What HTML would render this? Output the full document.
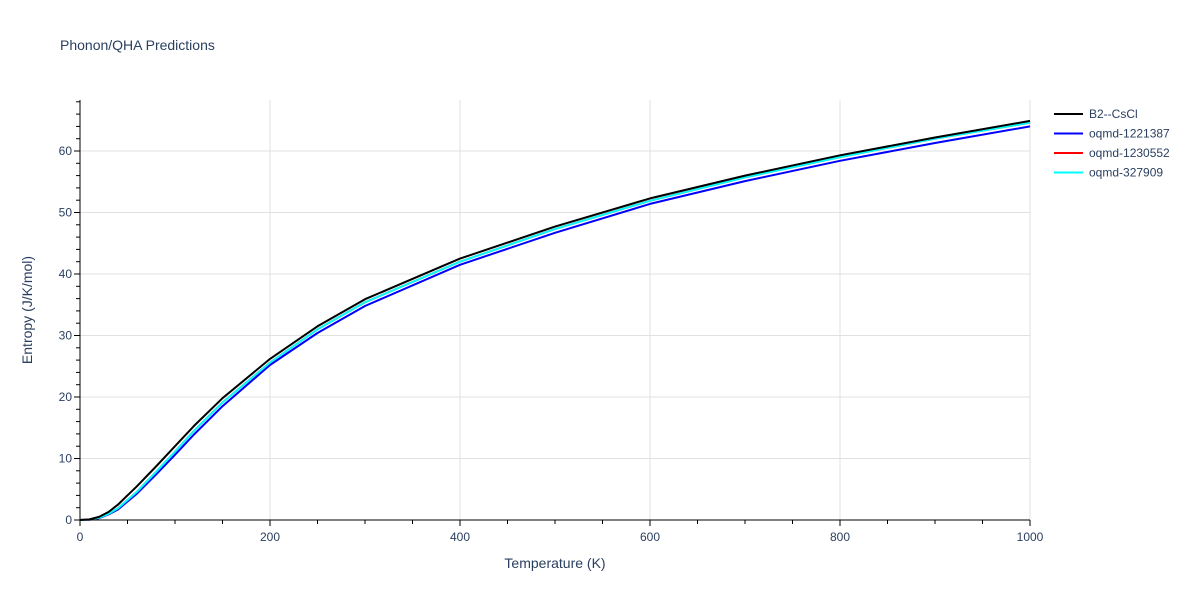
<!DOCTYPE html>
<html><head><meta charset="utf-8"><style>
body{margin:0;background:#fff;font-family:"Liberation Sans",sans-serif;}
text{font-family:"Liberation Sans",sans-serif;fill:#2a3f5f;}
</style></head><body>
<svg id="chart" width="1200" height="600" xmlns="http://www.w3.org/2000/svg">
<rect width="1200" height="600" fill="#fff"/>
<text x="60" y="50" font-size="14">Phonon/QHA Predictions</text>
<g id="grid"></g><g id="series"></g><g id="axes"></g>
<text x="555" y="568" font-size="14" text-anchor="middle">Temperature (K)</text>
<text transform="translate(32,310) rotate(-90)" font-size="14" text-anchor="middle">Entropy (J/K/mol)</text>
<g id="legend"></g>
</svg>
<script>
const temps=[0,10,20,30,40,60,80,100,120,150,200,250,300,400,500,600,700,800,900,1000];
const sB2=[0,0.1,0.5,1.3,2.5,5.5,8.7,12,15.3,19.8,26.2,31.5,35.9,42.5,47.7,52.3,56.0,59.3,62.2,64.9];
const s1221387=[0,0.05,0.3,0.9,1.7,4.3,7.4,10.6,13.9,18.5,25.2,30.4,34.8,41.5,46.7,51.4,55.1,58.4,61.3,64.0];
const s1230552=[0,0.06,0.35,1.0,1.9,4.6,7.8,11.1,14.5,19.1,25.6,31.0,35.4,42.0,47.3,51.9,55.7,59.0,62.0,64.6];
const s327909=[0,0.06,0.35,1.0,1.9,4.6,7.8,11.1,14.5,19.1,25.6,31.0,35.4,42.0,47.3,51.9,55.7,59.0,62.0,64.6];
const xTicks=[0,200,400,600,800,1000];
const yTicks=[0,10,20,30,40,50,60];
const names=["B2--CsCl","oqmd-1221387","oqmd-1230552","oqmd-327909"];
const colors=["#000000","#0000ff","#ff0000","#00ffff"];
const NS="http://www.w3.org/2000/svg";
const X=v=>80+v*0.95, Y=v=>520-v*6.15;
function mk(t,a,p){const e=document.createElementNS(NS,t);for(const k in a)e.setAttribute(k,a[k]);p.appendChild(e);return e;}
const grid=document.getElementById('grid'),axes=document.getElementById('axes'),ser=document.getElementById('series'),leg=document.getElementById('legend');
xTicks.forEach(v=>{if(v>0){const l=mk('line',{x1:X(v),x2:X(v),y1:100,y2:520,stroke:'#e1e1e1'},grid);

}
const t=mk('text',{x:X(v),y:541,'font-size':12,'text-anchor':'middle'},axes);t.textContent=v;

});
yTicks.forEach(v=>{if(v>0){const l=mk('line',{x1:80,x2:1030,y1:Y(v),y2:Y(v),stroke:'#e1e1e1'},grid);

}
const t=mk('text',{x:72,y:Y(v)+4,'font-size':12,'text-anchor':'end'},axes);t.textContent=v;

});
for(let v=0;v<=1000;v+=50){mk('line',{x1:X(v),x2:X(v),y1:520,y2:v%200==0?526:524,stroke:'#000'},axes);}
for(let v=0;v<=68;v+=2){mk('line',{x1:80,x2:v%10==0?74:76,y1:Y(v),y2:Y(v),stroke:'#000'},axes);}
mk('line',{x1:80,x2:80,y1:100,y2:520,stroke:'#000'},axes);
mk('line',{x1:80,x2:1030,y1:520,y2:520,stroke:'#000'},axes);
const data=[sB2,s1221387,s1230552,s327909];
const order=[1,2,3,0];
order.forEach(i=>{const d=temps.map((t,j)=>(j?'L':'M')+X(t).toFixed(1)+','+Y(data[i][j]).toFixed(1)).join('');
const p=mk('path',{d:d,fill:'none',stroke:colors[i],'stroke-width':2,'stroke-linejoin':'round'},ser);

});
names.forEach((n,i)=>{const g=mk('g',{},leg);


const y=114+i*19.5;mk('line',{x1:1054,x2:1083,y1:y,y2:y,stroke:colors[i],'stroke-width':2},g);
const t=mk('text',{x:1089,y:y+4,'font-size':12},g);t.textContent=n;});
</script>
</body></html>
